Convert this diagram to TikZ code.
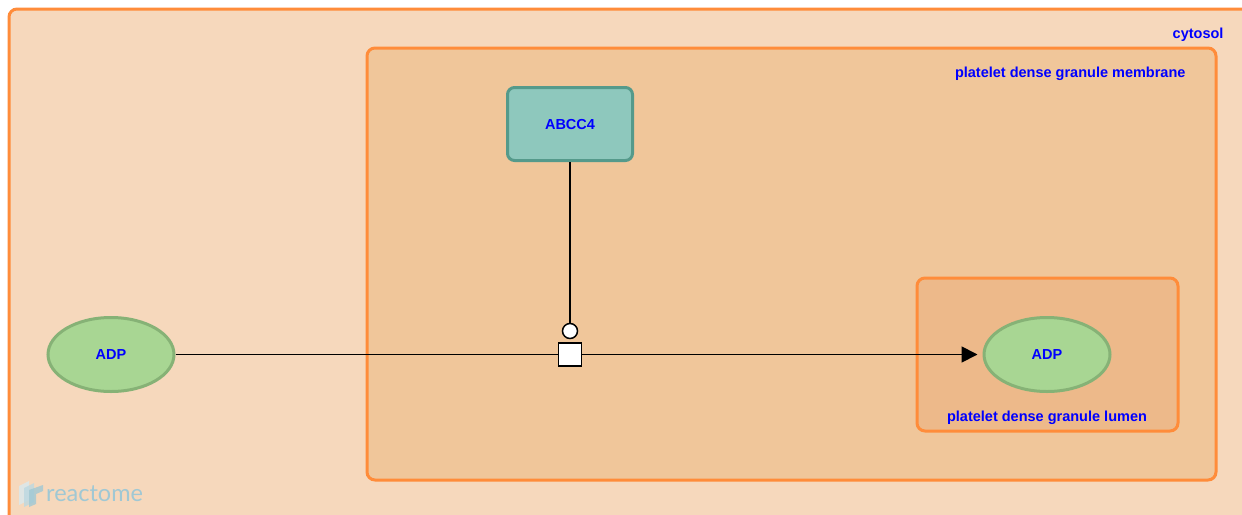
\documentclass[tikz,border=0pt]{standalone}
\usepackage{fontspec}
\setmainfont{Liberation Sans}
\newfontfamily\logofont{Lato}
\usetikzlibrary{arrows.meta,shapes.geometric,positioning}
\definecolor{compline}{RGB}{255,140,58}
\definecolor{cytfill}{RGB}{246,216,188}
\definecolor{memfill}{RGB}{240,198,154}
\definecolor{lumfill}{RGB}{237,185,138}
\definecolor{chemfill}{RGB}{168,214,147}
\definecolor{chemline}{RGB}{134,178,118}
\definecolor{protfill}{RGB}{142,200,189}
\definecolor{protline}{RGB}{85,154,139}
\definecolor{lblblue}{RGB}{0,0,255}
\definecolor{logoblue}{RGB}{160,200,212}
\tikzset{
  comp/.style={draw=compline, line width=3pt, rounded corners=8pt},
  lbl/.style={text=lblblue, font=\bfseries\fontsize{14.5}{17}\selectfont, text depth=0pt},
  chem/.style={ellipse, draw=chemline, fill=chemfill, line width=3pt,
    minimum width=126pt, minimum height=74pt, inner sep=0pt, lbl},
  prot/.style={rectangle, rounded corners=7pt, draw=protline, fill=protfill,
    line width=3pt, minimum width=125pt, minimum height=73pt, inner sep=0pt, lbl},
  link/.style={line width=1.8pt},
}
\begin{document}
\begin{tikzpicture}[x=1pt,y=-1pt]
\useasboundingbox[fill=white] (0,0) rectangle (1242,514);
% compartments
\filldraw[comp, fill=cytfill] (9,9) rectangle (1270,540);
\filldraw[comp, fill=memfill] (367,48) rectangle (1216,480);
\filldraw[comp, fill=lumfill] (917,278) rectangle (1178,431);
\node[lbl, anchor=east] (cytLbl) at (1227,33) {cytosol};
\node[lbl, anchor=east] (memLbl) at (1189,72) {platelet dense granule membrane};
\node[lbl] (lumLbl) at (1047,416) {platelet dense granule lumen};
% entities
\node[chem] (adpCyt) at (111,354.5) {ADP};
\node[chem] (adpLum) at (1047,354.5) {ADP};
\node[prot] (abcc) at (570,124) {ABCC4};
% reaction
\node[draw, fill=white, line width=1.5pt, minimum size=23pt, inner sep=0pt] (proc) at (570,354.5) {};
\node[circle, draw, fill=white, line width=1.5pt, minimum size=15pt, inner sep=0pt] (cat) at (570,331) {};
\draw[link] (adpCyt) -- (proc);
\draw[link, -{Triangle[length=16pt,width=16pt]}, shorten >=5pt] (proc) -- (adpLum);
\draw[link] (abcc) -- (cat);
% logo
\fill[logoblue!40, opacity=.8] (19,486) -- (29,481) -- (29,500) -- (19,505) -- cycle;
\fill[logoblue!70, opacity=.8] (24,488) -- (34,483) -- (34,502) -- (24,507) -- cycle;
\fill[logoblue, opacity=.8] (29,490) -- (43,485) -- (43,491) -- (36,494) -- (36,504) -- (29,507) -- cycle;
\node[text=logoblue, font=\logofont\fontsize{23.5}{24}\selectfont, anchor=west, inner sep=0pt] (logo) at (46,494) {reactome};
\end{tikzpicture}
\end{document}
